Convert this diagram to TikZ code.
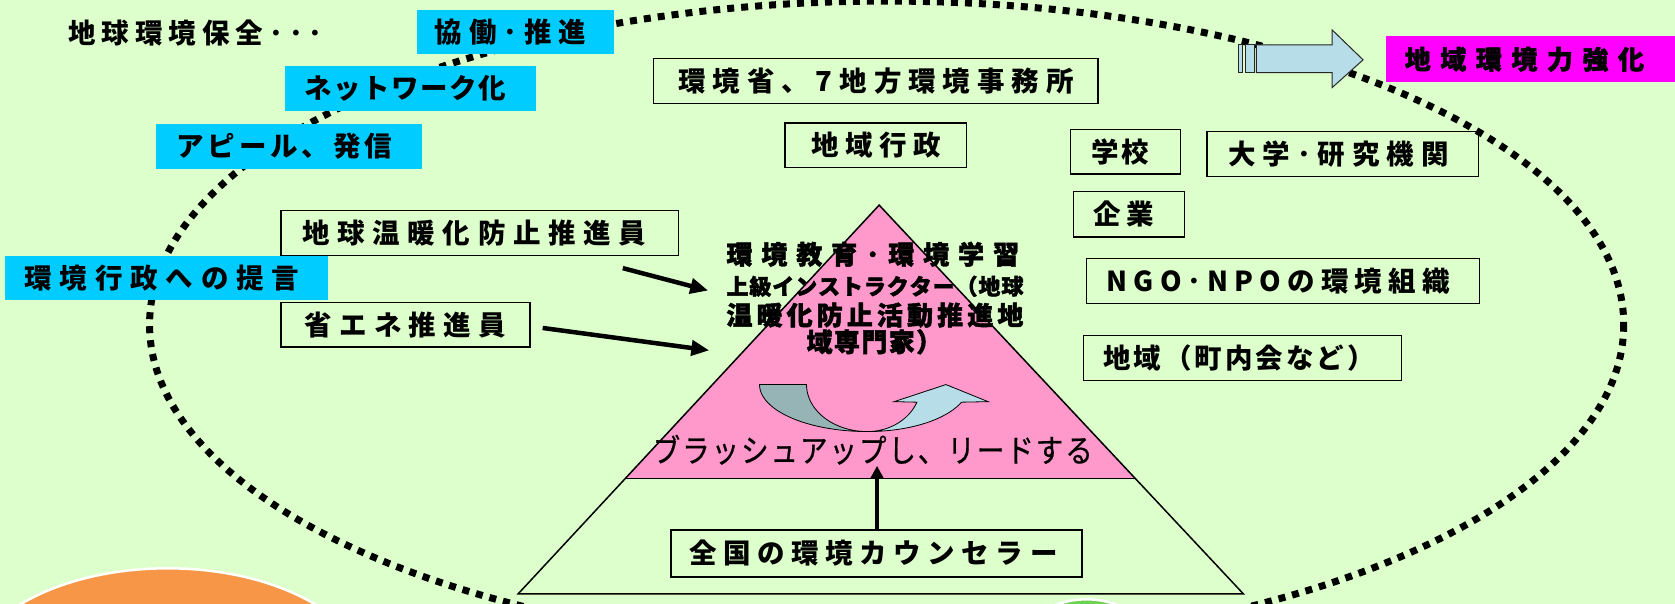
\documentclass[tikz,border=0pt]{standalone}
\usepackage{fontspec}
\usepackage{graphicx}
\newfontfamily\jp{Noto Sans CJK JP}
\newfontfamily\jpH{Noto Sans CJK JP}[BoldFeatures={FakeBold=1.8}]
\newfontfamily\jpM{Noto Sans CJK JP}[UprightFeatures={FakeBold=0.6,FakeStretch=0.86}]
\usetikzlibrary{arrows.meta}
\definecolor{bg}{RGB}{221,255,204}
\definecolor{cyanbox}{RGB}{0,204,255}
\definecolor{pinkfill}{RGB}{255,153,204}
\definecolor{magbox}{RGB}{255,0,255}
\definecolor{arrowblue}{RGB}{183,221,232}
\definecolor{arrowgray}{RGB}{150,180,182}
\definecolor{orangeblob}{RGB}{247,150,70}
\definecolor{greenblob}{RGB}{110,210,80}
\newlength\uu \setlength\uu{1.0683pt}
\makeatletter
\newcommand\spr[2]{\makebox[#1\uu][s]{\spr@a#2\relax}}
\def\spr@a#1{#1\spr@b}
\def\spr@b#1{\ifx\relax#1\else\hfil#1\expandafter\spr@b\fi}
\makeatother
\begin{document}
\begin{tikzpicture}[x=1.0683pt,y=-1.0683pt,
  cbox/.style={fill=cyanbox,draw=none},
  obox/.style={draw=black,line width=1.4pt},
  txt/.style={inner sep=0pt,font=\jp\bfseries\fontsize{27.5}{30}\selectfont},
  heavy/.style={inner sep=0pt,font=\jpH\bfseries\fontsize{26}{28}\selectfont},
  heavys/.style={inner sep=0pt,font=\jpH\bfseries\fontsize{22}{24}\selectfont},
  plain/.style={inner sep=0pt,font=\jpM\fontsize{32}{34}\selectfont},
  dotline/.style={line width=7pt,dash pattern=on 7pt off 7pt},
  blk/.style={line width=4.5pt,-{Triangle[length=18pt,width=15pt]}},
  upblk/.style={line width=4.5pt,-{Triangle[length=13pt,width=13pt]}}]
\useasboundingbox (0,0) rectangle (1568,565.4);
\fill[bg] (0,0) rectangle (1568,565.4);
\clip (0,0) rectangle (1568,565.4);
% blobs at the bottom
\filldraw[fill=orangeblob,draw=white,line width=2.5pt] (157,640) ellipse [x radius=190, y radius=108];
\filldraw[fill=greenblob,draw=white,line width=2.5pt] (1017,640) ellipse [x radius=80, y radius=79];
% dotted ellipse
\draw[dotline] (830,304) ellipse [x radius=690, y radius=303];
% cyan boxes
\fill[cbox] (390,9) rectangle (575,51);
\fill[cbox] (267,62) rectangle (502,104);
\fill[cbox] (146,116) rectangle (395,158);
\fill[cbox] (5,240) rectangle (307,281);
\node[txt] (kyodo) at (478,30) {\spr{142}{協働･推進}};
\node[txt] (network) at (379.5,83) {\spr{189}{ネットワーク化}};
\node[txt] (appeal) at (266,137) {\spr{202}{アピール、発信}};
\node[txt] (teigen) at (151.5,260.5) {\spr{257}{環境行政への提言}};
\node[txt] (hozen) at (183,31) {\spr{238}{地球環境保全･･･}};
% outlined boxes
\draw[obox] (612,55) rectangle (1028,97);
\node[txt] (kankyosho) at (820,76) {\spr{370}{環境省、7地方環境事務所}};
\draw[obox] (735,115) rectangle (905,157);
\node[txt] (gyosei) at (820,136) {\spr{121}{地域行政}};
\draw[obox] (1002,121) rectangle (1105,163);
\node[txt] (gakko) at (1049,142) {\spr{54}{学校}};
\draw[obox] (1130,123) rectangle (1384,165);
\node[txt] (daigaku) at (1253,144) {\spr{206}{大学･研究機関}};
\draw[obox] (1005,179) rectangle (1109,222);
\node[txt] (kigyo) at (1052,200.5) {\spr{56}{企業}};
\draw[obox] (1017,242) rectangle (1385,284);
\node[txt] (ngo) at (1196.5,263) {\spr{321}{NGO･NPOの環境組織}};
\draw[obox] (1014,314) rectangle (1312,356);
\node[txt] (chiiki) at (1160,335) {\spr{254}{地域（町内会など）}};
\draw[obox] (263,197) rectangle (635,239);
\node[txt] (ondanka) at (444,218) {\spr{322}{地球温暖化防止推進員}};
\draw[obox] (263,283) rectangle (496,325);
\node[txt] (shoene) at (379.5,304) {\spr{188}{省エネ推進員}};
% pyramid
\coordinate (apex) at (823,192);
\coordinate (bl) at (485,556);
\coordinate (br) at (1164,556);
\coordinate (pl) at (585,448);
\coordinate (pr) at (1063,448);
\fill[pinkfill] (apex) -- (pr) -- (pl) -- cycle;
\draw[line width=1.5pt,line join=miter] (apex) -- (br) -- (bl) -- cycle;
\draw[line width=1.5pt] (pl) -- (pr);
% counselor box
\draw[obox] (628,496) rectangle (1013,540);
\node[txt] (zenkoku) at (817.5,518) {\spr{345}{全国の環境カウンセラー}};
% pyramid text
\node[heavy] (l1) at (817,238) {\spr{274}{環境教育･環境学習}};
\node[heavys] (l2) at (819,268) {\spr{278}{上級インストラクター（地球}};
\node[heavy] (l3) at (819,295) {\spr{278}{温暖化防止活動推進地}};
\node[heavy] (l4) at (818.5,320) {\spr{127}{域専門家）}};
% U-turn arrow
\filldraw[fill=arrowgray,draw=black,line width=0.8pt]
  plot[domain=180:90,samples=40] ({812+101*cos(\x)},{360+44*sin(\x)})
  -- plot[domain=90:180,samples=40] ({812+57*cos(\x)},{360+44*sin(\x)}) -- cycle;
\filldraw[fill=arrowblue,draw=black,line width=0.8pt]
  plot[domain=90:22,samples=40] ({812+95*cos(\x)},{360+44*sin(\x)})
  -- (925,376) -- (885.5,360) -- (837,376)
  -- plot[domain=22:90,samples=40] ({812+50*cos(\x)},{360+44*sin(\x)}) -- cycle;
\node[plain] (brush) at (817,421) {\spr{412}{ブラッシュアップし、リードする}};
% arrows into pyramid
\coordinate (a1s) at (583,251);
\coordinate (a1e) at (663,272);
\coordinate (a2s) at (508,307);
\coordinate (a2e) at (664,328);
\draw[blk] (a1s) -- (a1e);
\draw[blk] (a2s) -- (a2e);
\coordinate (ups) at (821,496);
\coordinate (upe) at (821,436);
\draw[upblk] (ups) -- (upe);
% block arrow and target box
\filldraw[fill=arrowblue,draw=black!85,line width=1pt]
  (1176,42) -- (1247,42) -- (1247,28) -- (1276,56) -- (1247,82) -- (1247,68) -- (1176,68) -- cycle;
\filldraw[fill=arrowblue,draw=black!85,line width=1pt] (1159,42) rectangle (1163,68);
\filldraw[fill=arrowblue,draw=black!85,line width=1pt] (1166,42) rectangle (1174,68);
\fill[magbox] (1297,34) rectangle (1568,77);
\node[heavy] (kyoka) at (1427,55.5) {\spr{224}{地域環境力強化}};
\end{tikzpicture}
\end{document}
